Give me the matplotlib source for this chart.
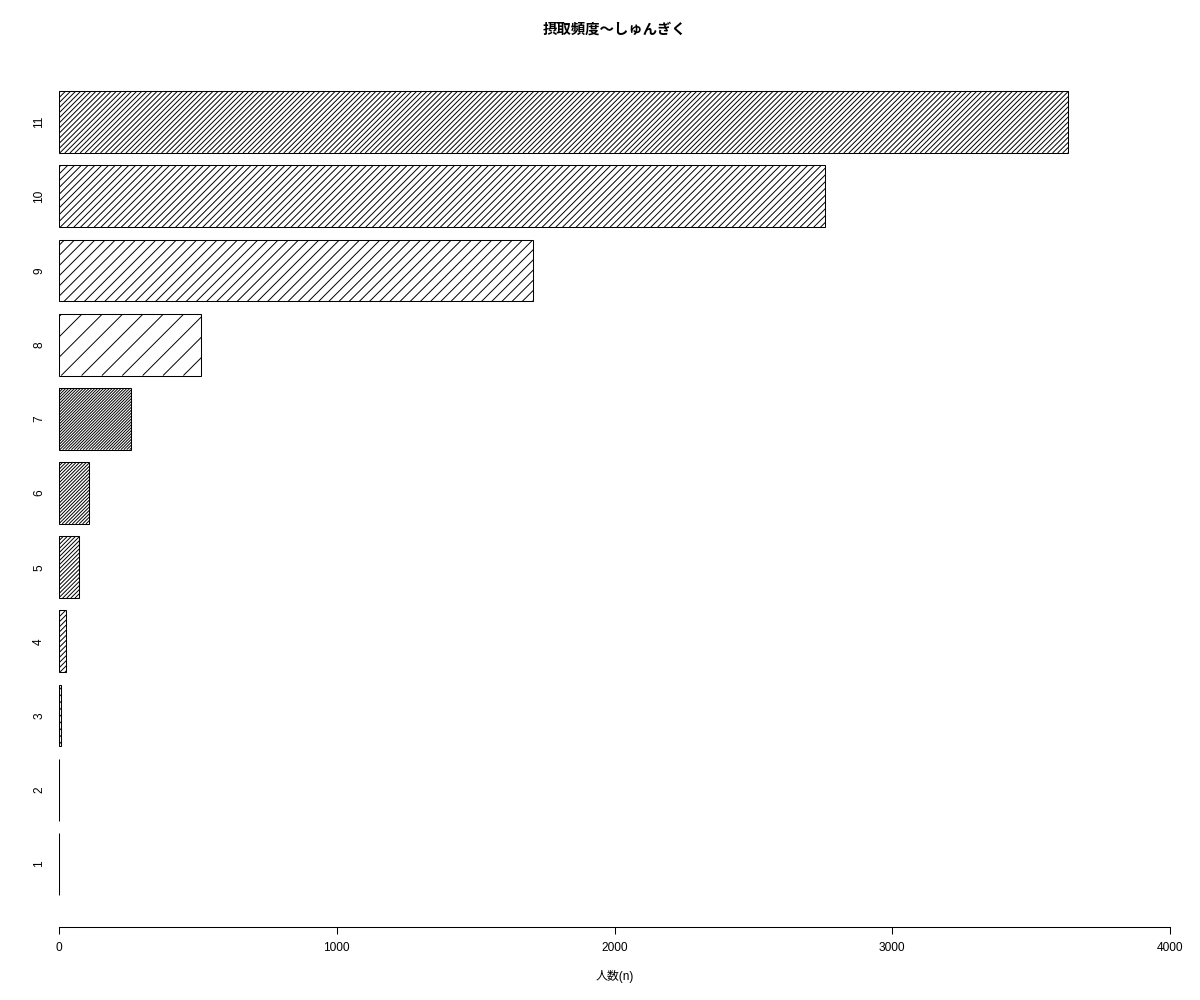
import matplotlib
matplotlib.use("Agg")
import matplotlib.pyplot as plt
from matplotlib.collections import LineCollection
import numpy as np

# frequency categories and number of people in each
categories = ["1", "2", "3", "4", "5", "6", "7", "8", "9", "10", "11"]
counts = [1, 1, 6, 25, 72, 108, 259, 512, 1705, 2757, 3632]

title = "摂取頻度〜しゅんぎく"
xlabel = "人数(n)"
xticks = [0, 1000, 2000, 3000, 4000]

# hatch line densities (lines per inch, R style), recycled over the bars
densities = [5, 10, 15, 20, 25, 30, 35]

plt.rcParams["font.family"] = ["Liberation Sans", "Noto Sans CJK JP", "DejaVu Sans"]

W, H, DPI = 1200, 1000, 100
fig = plt.figure(figsize=(W / DPI, H / DPI), dpi=DPI)
left, right, top, bottom = 59, 1170, 59, 73
ax = fig.add_axes([left / W, bottom / H, (right - left) / W, (H - top - bottom) / H])

n = len(counts)
centers = 0.7 + 1.2 * np.arange(n)
ylo = 0.2 - 0.04 * (1.2 * n - 0.2)
yhi = 1.2 * n + 0.04 * (1.2 * n - 0.2)
xmax = xticks[-1]

bars = ax.barh(centers, counts, height=1.0, left=0, color="white",
               edgecolor="black", linewidth=0.75, zorder=2)
ax.set_xlim(0, xmax)
ax.set_ylim(ylo, yhi)

# pixels per data unit, to lay the hatch at 45 degrees on screen
sx = (right - left) / xmax
sy = (H - top - bottom) / (yhi - ylo)

for i, (bar, v) in enumerate(zip(bars, counts)):
    d = densities[i % len(densities)]
    step = 72.0 / d * np.sqrt(2)
    y0, y1 = bar.get_y(), bar.get_y() + bar.get_height()
    X1, Y0, Y1 = v * sx, y0 * sy, y1 * sy
    cs = np.arange(np.floor((0 - Y1) / step) * step, X1 - Y0 + step, step)
    segs = [[((Y0 + c) / sx, y0), ((Y1 + c) / sx, y1)] for c in cs]
    lc = LineCollection(segs, colors="black", linewidths=0.7, zorder=3)
    ax.add_collection(lc, autolim=False)
    lc.set_clip_path(bar)

for side in ["top", "right", "left"]:
    ax.spines[side].set_visible(False)
ax.spines["bottom"].set_bounds(0, xmax)
ax.spines["bottom"].set_linewidth(0.75)

ax.set_xticks(xticks, [str(t) for t in xticks], fontsize=8.6)
ax.tick_params(axis="x", length=5, width=0.75, pad=6)
ax.set_yticks(centers, categories, fontsize=8.6, rotation=90, va="center")
ax.tick_params(axis="y", length=0, pad=10)

fig.text((left + right) / 2 / W, 1 - 30 / H, title, ha="center", va="center",
         fontsize=10.4, fontweight="bold")
fig.text((left + right) / 2 / W, 1 - 976 / H, xlabel, ha="center", va="center",
         fontsize=8.6)

fig.savefig("out.png", dpi=DPI)
